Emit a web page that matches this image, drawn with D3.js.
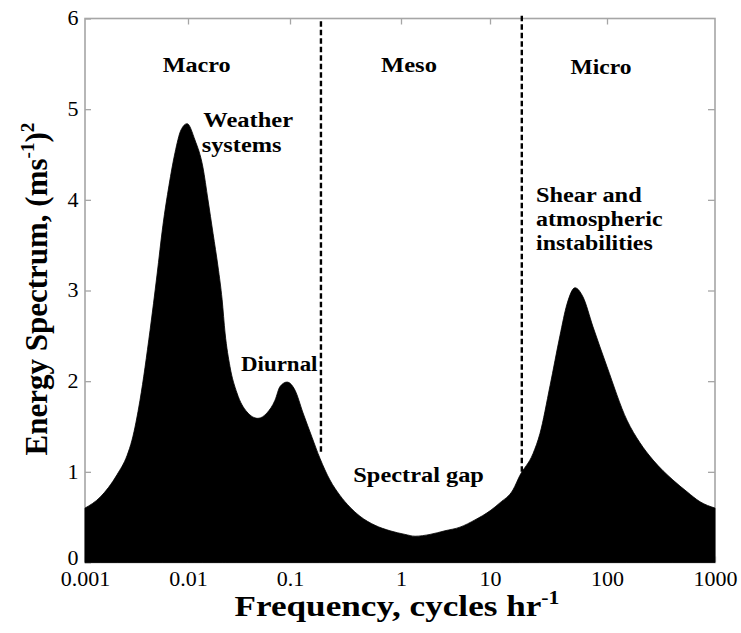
<!DOCTYPE html>
<html>
<head>
<meta charset="utf-8">
<script src="https://cdn.jsdelivr.net/npm/d3@7/dist/d3.min.js"></script>
<style>
  html, body { margin: 0; padding: 0; background: #fff; }
  svg { display: block; }
  text { font-family: "Liberation Serif", "Times New Roman", serif; fill: #000; }
</style>
</head>
<body>
<svg id="chart" width="741" height="633"></svg>
<script>
// ---- data ----
const freq = [0.001, 0.0014, 0.00205, 0.00256, 0.00286, 0.00342, 0.00428, 0.0050, 0.00571, 0.00654,
  0.00748, 0.00855, 0.0098, 0.0117, 0.0140, 0.0157, 0.0176, 0.0197, 0.0216, 0.0231,
  0.0258, 0.0302, 0.0379, 0.0485, 0.0595, 0.0713, 0.0798, 0.0935, 0.111, 0.131,
  0.158, 0.186, 0.229, 0.282, 0.347, 0.427, 0.584, 0.796, 1.11, 1.44,
  2.12, 3.12, 4.60, 6.78, 10, 12.2, 15.7, 18.0, 23.3, 26.7,
  32.6, 39.6, 45.5, 53.3, 62.3, 75.9, 100, 153, 202, 267,
  408, 551, 727, 1000];
const energy = [0.60, 0.72, 0.97, 1.18, 1.35, 1.79, 2.56, 3.17, 3.72, 4.16,
  4.52, 4.77, 4.84, 4.66, 4.36, 4.00, 3.63, 3.26, 2.90, 2.53,
  2.16, 1.87, 1.66, 1.59, 1.65, 1.79, 1.94, 1.99, 1.90, 1.65,
  1.38, 1.15, 0.91, 0.74, 0.61, 0.51, 0.41, 0.35, 0.31, 0.29,
  0.31, 0.35, 0.39, 0.47, 0.57, 0.66, 0.80, 0.96, 1.20, 1.42,
  1.95, 2.50, 2.85, 3.03, 2.93, 2.60, 2.16, 1.57, 1.32, 1.13,
  0.91, 0.78, 0.67, 0.60];
const xTicks = [0.001, 0.01, 0.1, 1, 10, 100, 1000];
const xTickLabels = ["0.001", "0.01", "0.1", "1", "10", "100", "1000"];
const yTicks = [0, 1, 2, 3, 4, 5, 6];
const boundaryFreq = [0.19, 18.7];      // dashed separators
const boundaryTop = [5.97, 6.03];
const boundaryBottom = [1.22, 1.0];
const regionLabels = ["Macro", "Meso", "Micro"];

// ---- layout ----
const svg = d3.select("#chart");
const L = 85, R = 715, T = 18.5, B = 562.5;
const x = d3.scaleLog()
  .domain(xTicks)
  .range([85, 188, 290, 401, 490, 607, 715]);
const y = d3.scaleLinear().domain([0, 6]).range([B, T]);
const gray = "#a6a6a6";

svg.append("rect").attr("width", 741).attr("height", 633).attr("fill", "#fff");

// frame
svg.append("rect").attr("x", L).attr("y", T).attr("width", R - L).attr("height", B - T)
  .attr("fill", "none").attr("stroke", gray).attr("stroke-width", 1.6);

// axes
const fmt = d => xTickLabels[xTicks.indexOf(d)];
const gx = svg.append("g").attr("transform", `translate(0,${B})`)
  .call(d3.axisBottom(x).tickValues(xTicks).tickFormat(fmt).tickSizeInner(-6).tickSizeOuter(0).tickPadding(9));
const gy = svg.append("g").attr("transform", `translate(${L},0)`)
  .call(d3.axisLeft(y).tickValues(yTicks).tickFormat(d3.format("d")).tickSizeInner(-6).tickSizeOuter(0).tickPadding(6));
const gr = svg.append("g").attr("transform", `translate(${R},0)`)
  .call(d3.axisRight(y).tickValues(yTicks.slice(1, 6)).tickFormat("").tickSizeInner(-7).tickSizeOuter(0));
const gt = svg.append("g").attr("transform", `translate(0,${T})`)
  .call(d3.axisTop(x).tickValues(xTicks.slice(1, 6)).tickFormat("").tickSizeInner(-6).tickSizeOuter(0));
[gx, gy, gr, gt].forEach(g => {
  g.select(".domain").remove();
  g.selectAll(".tick line").attr("stroke", gray).attr("stroke-width", 1.3);
  g.selectAll(".tick text").attr("font-size", 20).attr("fill", "#000");
});
gx.selectAll(".tick text").attr("transform", "scale(1.1,1)");
gy.selectAll(".tick text").attr("transform", "scale(1.1,1)");
gy.selectAll(".tick text").filter(d => d === 0).attr("dy", "0.1em");

// filled spectrum
const pts = freq.map((f, i) => ({ f, v: energy[i] }));
const area = d3.area()
  .x(d => x(d.f)).y0(y(0)).y1(d => y(d.v))
  .curve(d3.curveMonotoneX);
svg.append("path").datum(pts).attr("d", area).attr("fill", "#000").attr("stroke", "#000").attr("stroke-width", 0.8);

// dashed boundaries
boundaryFreq.forEach((f, i) => {
  svg.append("line")
    .attr("x1", x(f)).attr("x2", x(f))
    .attr("y1", y(boundaryTop[i])).attr("y2", y(boundaryBottom[i]))
    .attr("stroke", "#000").attr("stroke-width", 2.4).attr("stroke-dasharray", "5.5,3");
});

// text helper: places text and stretches it horizontally to a target width
function label(px, py, parts, size, width, anchor, weight) {
  const g = svg.append("g").attr("transform", `translate(${px},${py})`);
  const t = g.append("text").attr("font-size", size).attr("font-weight", weight || "bold")
    .attr("text-anchor", anchor || "start");
  parts.forEach(p => {
    const s = t.append("tspan").text(p.t);
    if (p.sup) s.attr("font-size", size * 0.62).attr("dy", -size * 0.42);
    if (p.down) s.attr("dy", size * 0.42);
  });
  if (width) {
    const w = t.node().getBBox().width;
    t.attr("transform", `scale(${width / w},1)`);
  }
  return g;
}

// region labels
label(196.7, 71.7, [{ t: regionLabels[0] }], 20, 68, "middle");
label(409, 71.7, [{ t: regionLabels[1] }], 20, 56, "middle");
label(601, 74, [{ t: regionLabels[2] }], 20, 61, "middle");

// annotations
label(203.3, 127.3, [{ t: "Weather" }], 20, 90);
label(201.7, 152, [{ t: "systems" }], 20, 80);
label(241, 370.7, [{ t: "Diurnal" }], 20, 77);
label(536, 201.7, [{ t: "Shear and" }], 20, 105.7);
label(536, 225.5, [{ t: "atmospheric" }], 20, 126.7);
label(536, 250, [{ t: "instabilities" }], 20, 117);
label(353.3, 482, [{ t: "Spectral gap" }], 20, 130.7);

// axis titles
label(397, 616, [{ t: "Frequency, cycles hr" }, { t: "-1", sup: true }], 29, 325, "middle");
const yt = label(47, 289, [{ t: "Energy Spectrum, (ms" }, { t: "-1", sup: true }, { t: ")", down: true }, { t: "2", sup: true }], 31, null, "middle");
yt.attr("transform", "translate(47,289) rotate(-90)");
</script>
</body>
</html>
